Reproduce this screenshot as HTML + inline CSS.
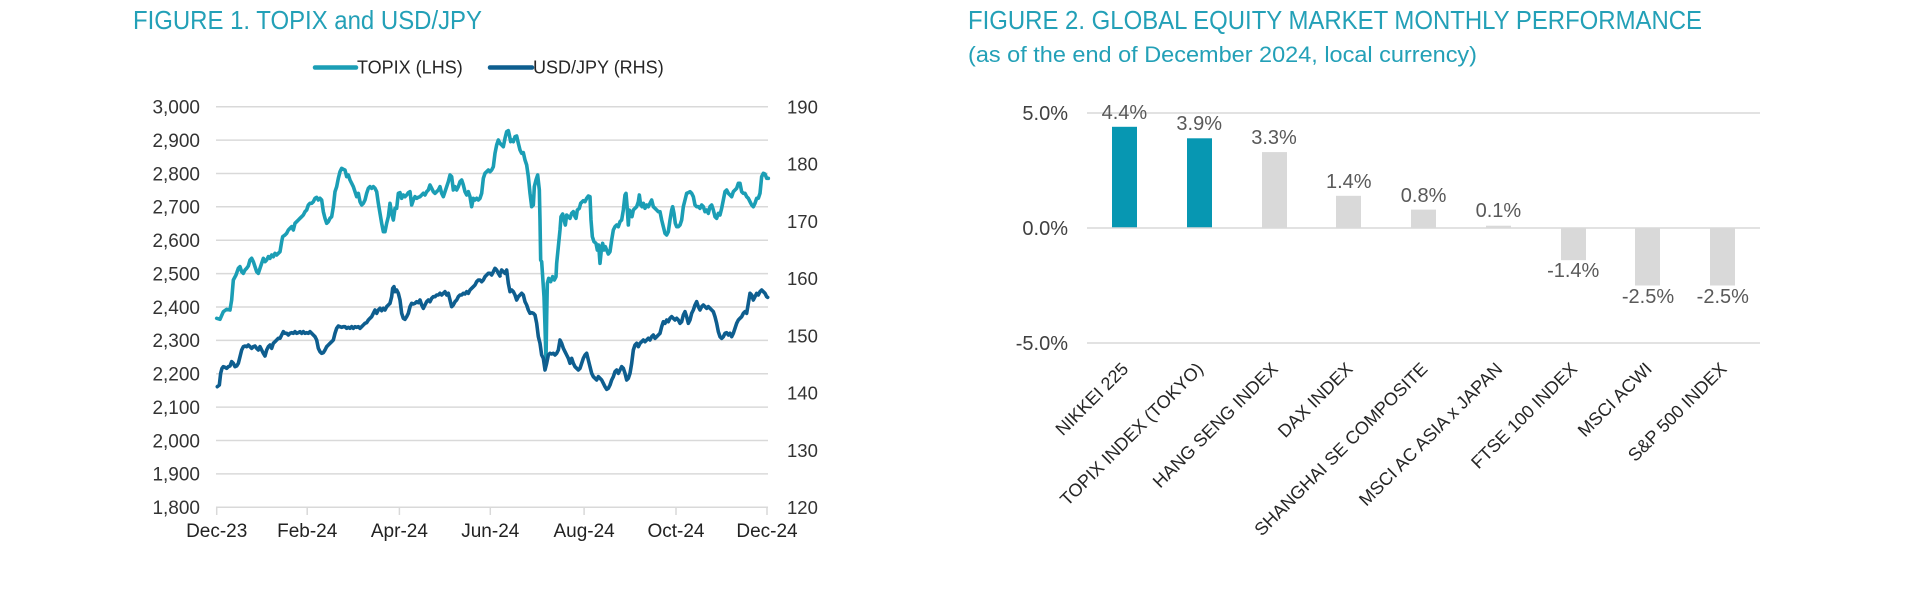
<!DOCTYPE html>
<html>
<head>
<meta charset="utf-8">
<style>
  html,body{margin:0;padding:0;background:#fff;}
  svg{display:block;}
  text{font-family:"Liberation Sans",Arial,sans-serif;}
</style>
</head>
<body>
<svg width="1920" height="589" viewBox="0 0 1920 589" xmlns="http://www.w3.org/2000/svg">
  <rect width="1920" height="589" fill="#fff"/>

  <!-- ================= FIGURE 1 ================= -->
  <text x="133" y="29" font-size="26" fill="#23A0B7" textLength="349" lengthAdjust="spacingAndGlyphs">FIGURE 1. TOPIX and USD/JPY</text>

  <!-- legend -->
  <line x1="315" y1="67.5" x2="356" y2="67.5" stroke="#1B9EB5" stroke-width="4.5" stroke-linecap="round"/>
  <text x="357" y="73.5" font-size="18" fill="#262626">TOPIX (LHS)</text>
  <line x1="490" y1="67.5" x2="532" y2="67.5" stroke="#0E5E8F" stroke-width="4.5" stroke-linecap="round"/>
  <text x="533" y="73.5" font-size="18" fill="#262626">USD/JPY (RHS)</text>

  <!-- gridlines -->
  <g stroke="#D9D9D9" stroke-width="1.5">
    <line x1="216" y1="106.7" x2="768" y2="106.7"/>
    <line x1="216" y1="140.1" x2="768" y2="140.1"/>
    <line x1="216" y1="173.5" x2="768" y2="173.5"/>
    <line x1="216" y1="206.8" x2="768" y2="206.8"/>
    <line x1="216" y1="240.2" x2="768" y2="240.2"/>
    <line x1="216" y1="273.6" x2="768" y2="273.6"/>
    <line x1="216" y1="307.0" x2="768" y2="307.0"/>
    <line x1="216" y1="340.4" x2="768" y2="340.4"/>
    <line x1="216" y1="373.8" x2="768" y2="373.8"/>
    <line x1="216" y1="407.1" x2="768" y2="407.1"/>
    <line x1="216" y1="440.5" x2="768" y2="440.5"/>
    <line x1="216" y1="473.9" x2="768" y2="473.9"/>
    <line x1="216" y1="507.3" x2="768" y2="507.3"/>
    <line x1="216.7" y1="507.3" x2="216.7" y2="515"/>
    <line x1="307.2" y1="507.3" x2="307.2" y2="515"/>
    <line x1="399.4" y1="507.3" x2="399.4" y2="515"/>
    <line x1="490.3" y1="507.3" x2="490.3" y2="515"/>
    <line x1="584.1" y1="507.3" x2="584.1" y2="515"/>
    <line x1="676" y1="507.3" x2="676" y2="515"/>
    <line x1="767" y1="507.3" x2="767" y2="515"/>
  </g>

  <!-- left axis labels -->
  <g font-size="19" fill="#333" text-anchor="end">
    <text x="200" y="113.5">3,000</text>
    <text x="200" y="146.9">2,900</text>
    <text x="200" y="180.3">2,800</text>
    <text x="200" y="213.6">2,700</text>
    <text x="200" y="247.0">2,600</text>
    <text x="200" y="280.4">2,500</text>
    <text x="200" y="313.8">2,400</text>
    <text x="200" y="347.2">2,300</text>
    <text x="200" y="380.6">2,200</text>
    <text x="200" y="413.9">2,100</text>
    <text x="200" y="447.3">2,000</text>
    <text x="200" y="480.7">1,900</text>
    <text x="200" y="514.1">1,800</text>
  </g>

  <!-- right axis labels -->
  <g font-size="18.5" fill="#333">
    <text x="787" y="113.4">190</text>
    <text x="787" y="170.6">180</text>
    <text x="787" y="227.9">170</text>
    <text x="787" y="285.1">160</text>
    <text x="787" y="342.3">150</text>
    <text x="787" y="399.6">140</text>
    <text x="787" y="456.8">130</text>
    <text x="787" y="514.0">120</text>
  </g>

  <!-- x labels -->
  <g font-size="19" fill="#222" text-anchor="middle">
    <text x="216.7" y="537">Dec-23</text>
    <text x="307.2" y="537">Feb-24</text>
    <text x="399.4" y="537">Apr-24</text>
    <text x="490.3" y="537">Jun-24</text>
    <text x="584.1" y="537">Aug-24</text>
    <text x="676" y="537">Oct-24</text>
    <text x="767" y="537">Dec-24</text>
  </g>

  <!-- TOPIX series -->
  <g fill="none" stroke="#1B9EB5" stroke-width="3.6" stroke-linejoin="round" stroke-linecap="round">
    <polyline vector-effect="non-scaling-stroke" transform="translate(210,120) scale(0.333333)" points="20,595 30,598 40,575 50,568 60,570 65,540 70,480 78,465 85,445 90,440 95,455 100,460 105,450 110,445 115,438 120,420 125,415 130,425 135,440 140,455 145,460 150,445 155,430 160,415 165,425 170,420 175,410 180,415 185,405 190,410 195,400 200,405 205,400 210,395 215,365 218,350 225,345 230,340 235,330 240,325 245,320 250,330 255,310 260,305 265,300 270,295 275,290 280,285 285,275 290,270 295,255 300,250 305,250 310,245 315,235 320,232 325,240 330,235 335,240 340,275 345,295 350,310 355,305 360,295 365,290 370,260 375,215 380,200 385,175 390,155 395,145 400,148 405,150 410,170 415,165 420,180 425,190 430,200 435,215 440,230 445,220 450,245 455,255 460,250 465,240 470,220 475,205 480,200 485,205 490,200 495,205 500,215 505,250 510,280 515,310 520,335 525,335 530,310 535,290 540,250 545,280 550,300 555,265 560,265 565,220 570,218 575,235 580,225 585,230 590,225 595,218 600,215 605,255 610,240 615,230 620,235 625,232 630,230 635,225 640,220 645,225 650,215 655,210 660,195 665,205 670,215 675,220 680,215 685,210 690,200 695,220 700,230 705,215 710,200 715,185 720,165 725,170 730,210 735,200 740,210 745,200 750,185 755,180 760,195 765,215 770,225 775,215 780,230 785,260 790,235 795,240 800,235 805,240 810,235 815,220 820,175 825,160 830,155 835,150 840,155 845,150 850,140 855,100 860,75 865,60 870,70"/>
    <polyline vector-effect="non-scaling-stroke" transform="translate(490,110) scale(0.333333)" points="30,100 35,105 40,110 45,85 50,65 55,62 58,75 62,95 66,90 70,95 75,80 80,78 85,100 90,120 95,130 100,128 105,150 110,165 115,200 120,250 125,290 130,285 133,230 138,210 143,195 148,240 150,330 152,450 155,455 158,500 162,560 165,650 168,750 170,620 172,520 176,505 182,515 188,500 193,510 198,500 200,460 205,410 210,360 213,320 218,312 222,330 226,345 230,315 235,320 240,325 245,310 250,305 255,320 258,325 262,300 268,295 272,280 280,272 285,275 290,265 295,258 300,260 303,330 307,380 312,395 318,400 322,420 326,405 330,460 334,420 338,400 342,420 346,410 350,420 355,432 360,425 365,390 370,360 375,350 380,345 385,350 390,335 395,330 400,300 405,255 408,250 411,285 415,345 418,300 422,310 426,320 430,300 435,295 440,290 445,275 448,255 452,285 456,290 460,280 465,295 470,285 475,290 480,280 485,270 490,290 495,295 500,300 505,305 510,305 515,330 520,350 525,370 530,375 535,365 540,330 545,300 548,290 552,310 556,340 560,350 565,350 570,345 575,330 580,290 585,270 590,250 595,248 600,245 605,250 610,260 615,285 620,290 625,290 630,295 635,285 640,290 645,305 650,300 655,310 660,290 665,285 670,300 675,320 680,325 685,310 690,315 695,295 700,270 705,245 710,240 715,250 720,255 725,260 730,245 735,240 740,235 745,220 750,220 755,245 760,250 765,250 770,260 775,265 780,275 785,285 790,290 795,280 800,265 805,265 810,250 815,200 820,190 825,192 830,205 835,205"/>
  </g>

  <!-- USD/JPY series -->
  <g fill="none" stroke="#0E5E8F" stroke-width="3.6" stroke-linejoin="round" stroke-linecap="round">
    <polyline vector-effect="non-scaling-stroke" transform="translate(210,120) scale(0.333333)" points="22,800 28,795 32,760 36,745 40,740 45,742 50,745 55,740 60,738 65,725 70,730 75,740 80,738 85,730 90,710 95,690 100,680 105,678 110,680 115,675 120,680 125,685 130,680 135,678 140,685 145,690 150,680 155,690 160,700 165,708 170,690 175,680 180,675 185,685 190,670 195,665 200,660 205,655 210,655 215,645 220,635 225,640 230,640 235,645 240,640 245,638 250,640 255,635 260,640 265,638 270,635 275,640 280,635 285,640 290,638 295,640 300,635 305,640 310,645 315,650 320,660 325,685 330,695 335,700 340,698 345,690 350,680 355,675 360,670 365,665 370,660 375,640 380,625 385,618 390,620 395,622 400,620 405,620 410,625 415,622 420,625 425,620 430,625 435,620 440,622 445,620 450,625 455,620 460,615 465,610 470,608 475,600 480,595 485,590 490,580 495,570 500,580 505,570 510,565 515,572 520,565 525,570 530,560 535,555 540,550 545,530 548,505 552,500 555,515 560,510 565,520 570,540 575,580 580,595 585,598 590,590 595,580 600,560 605,550 610,552 615,550 620,545 625,548 630,540 635,555 640,565 645,555 650,545 655,540 660,545 665,535 670,530 675,530 680,525 685,525 690,520 695,525 700,520 705,515 710,525 715,520 720,540 725,560 730,555 735,545 740,540 745,530 750,525 755,525 760,520 765,522 770,515 775,520 780,510 785,505 790,500 795,495 800,485 805,480 810,480 815,485 820,480 825,470 830,465 835,460 840,460 845,465 850,455 855,445 860,450 865,460 870,468"/>
    <polyline vector-effect="non-scaling-stroke" transform="translate(490,110) scale(0.333333)" points="30,492 35,480 40,485 45,490 50,480 55,520 60,545 65,540 70,545 75,555 80,570 85,560 90,555 95,550 100,555 105,575 110,585 115,600 120,610 125,608 130,610 135,615 140,640 145,680 150,700 155,735 160,745 165,780 170,760 175,735 180,730 185,732 190,730 195,735 200,730 205,720 210,690 215,700 220,715 225,725 230,735 235,745 240,760 245,745 250,760 255,770 260,775 265,780 270,775 275,760 280,745 285,735 290,730 295,750 300,770 305,790 310,800 315,805 320,810 325,800 330,805 335,810 340,820 345,830 350,838 355,835 360,825 365,810 370,800 375,785 380,780 385,790 390,780 395,770 400,775 405,790 410,810 415,805 420,790 425,760 430,720 435,705 440,700 445,710 450,700 455,695 460,690 465,695 470,690 475,685 480,690 485,680 490,675 495,685 500,680 505,675 510,670 515,650 520,635 525,640 530,630 535,635 540,625 545,620 550,625 555,630 560,625 565,630 570,640 575,635 580,615 585,605 590,620 595,640 600,630 605,610 610,600 615,585 620,575 625,590 630,600 635,590 640,585 645,590 650,595 655,590 660,595 665,600 670,605 675,620 680,640 685,665 690,680 695,685 700,680 705,670 710,668 715,675 720,670 725,680 730,670 735,655 740,640 745,630 750,625 755,620 760,610 765,605 770,610 775,580 780,550 785,555 790,570 795,560 800,550 805,555 810,545 815,540 820,545 825,550 830,560 833,562"/>
  </g>

  <!-- ================= FIGURE 2 ================= -->
  <text x="968" y="29" font-size="26" fill="#23A0B7" textLength="734" lengthAdjust="spacingAndGlyphs">FIGURE 2. GLOBAL EQUITY MARKET MONTHLY PERFORMANCE</text>
  <text x="968" y="62" font-size="22" fill="#23A0B7" textLength="509" lengthAdjust="spacingAndGlyphs">(as of the end of December 2024, local currency)</text>

  <!-- gridlines -->
  <g stroke="#D9D9D9" stroke-width="1.5">
    <line x1="1087" y1="113" x2="1760" y2="113"/>
    <line x1="1087" y1="343" x2="1760" y2="343"/>
  </g>

  <!-- y labels -->
  <g font-size="20" fill="#404040" text-anchor="end">
    <text x="1068" y="120">5.0%</text>
    <text x="1068" y="235">0.0%</text>
    <text x="1068" y="350">-5.0%</text>
  </g>

  <!-- bars -->
  <rect x="1112" y="126.8" width="25" height="101.2" fill="#0797B2"/>
  <rect x="1187" y="138.3" width="25" height="89.7" fill="#0797B2"/>
  <rect x="1262" y="152.1" width="25" height="75.9" fill="#D9D9D9"/>
  <rect x="1336" y="195.8" width="25" height="32.2" fill="#D9D9D9"/>
  <rect x="1411" y="209.6" width="25" height="18.4" fill="#D9D9D9"/>
  <rect x="1486" y="225.7" width="25" height="2.3" fill="#D9D9D9"/>
  <rect x="1561" y="228" width="25" height="32.2" fill="#D9D9D9"/>
  <rect x="1635" y="228" width="25" height="57.5" fill="#D9D9D9"/>
  <rect x="1710" y="228" width="25" height="57.5" fill="#D9D9D9"/>

  <line x1="1087" y1="228" x2="1760" y2="228" stroke="#D9D9D9" stroke-width="1.5"/>

  <!-- value labels -->
  <g font-size="20" fill="#595959" text-anchor="middle">
    <text x="1124.4" y="119">4.4%</text>
    <text x="1199.2" y="130">3.9%</text>
    <text x="1274" y="144">3.3%</text>
    <text x="1348.8" y="188">1.4%</text>
    <text x="1423.6" y="202">0.8%</text>
    <text x="1498.4" y="217">0.1%</text>
    <text x="1573.2" y="277">-1.4%</text>
    <text x="1648" y="303">-2.5%</text>
    <text x="1722.8" y="303">-2.5%</text>
  </g>

  <!-- category labels -->
  <g font-size="18" fill="#262626" text-anchor="end">
    <text transform="translate(1129.4,370) rotate(-45)">NIKKEI 225</text>
    <text transform="translate(1204.2,370) rotate(-45)">TOPIX INDEX (TOKYO)</text>
    <text transform="translate(1279,370) rotate(-45)">HANG SENG INDEX</text>
    <text transform="translate(1353.8,370) rotate(-45)">DAX INDEX</text>
    <text transform="translate(1428.6,370) rotate(-45)">SHANGHAI SE COMPOSITE</text>
    <text transform="translate(1503.4,370) rotate(-45)">MSCI AC ASIA x JAPAN</text>
    <text transform="translate(1578.2,370) rotate(-45)">FTSE 100 INDEX</text>
    <text transform="translate(1653,370) rotate(-45)">MSCI ACWI</text>
    <text transform="translate(1727.8,370) rotate(-45)">S&amp;P 500 INDEX</text>
  </g>
</svg>
</body>
</html>
